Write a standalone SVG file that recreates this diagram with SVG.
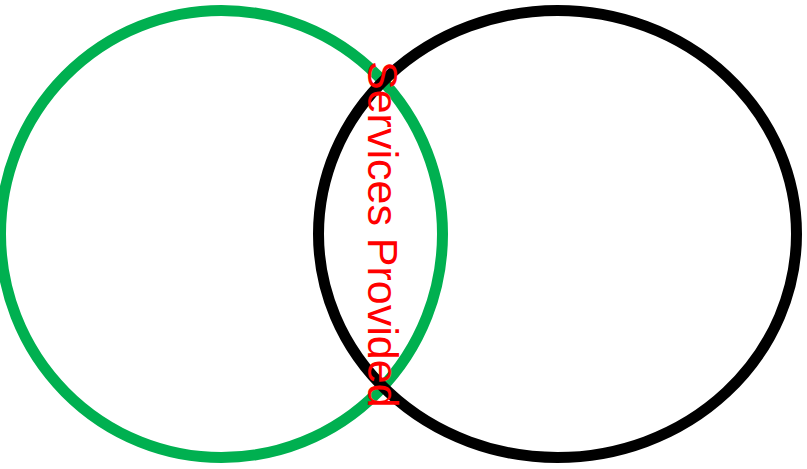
<svg xmlns="http://www.w3.org/2000/svg" width="807" height="469" viewBox="0 0 807 469">
<style>
.ring{fill:none;stroke-width:11}
.lbl{font-family:"Liberation Sans",Arial,sans-serif;font-size:43px;fill:#FF0000}
</style>
<rect width="807" height="469" fill="#FFFFFF"/>
<g id="left-circle"><ellipse class="ring" cx="221.5" cy="234" rx="221" ry="223.5" stroke="#00B050"/></g>
<g id="right-circle"><ellipse class="ring" cx="557.5" cy="234" rx="239" ry="223.5" stroke="#000000"/></g>
<g id="label"><text class="lbl" transform="translate(368,61) rotate(90)">Services Provided</text></g>
</svg>
